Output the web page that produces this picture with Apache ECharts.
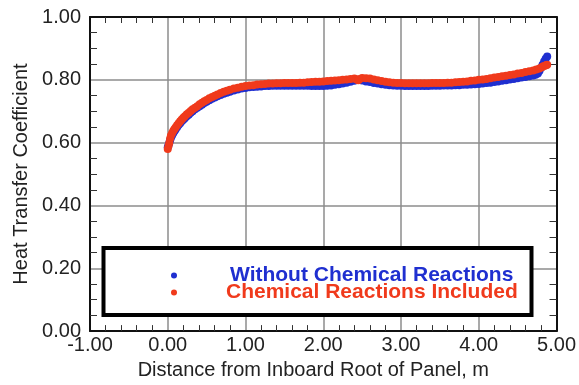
<!DOCTYPE html>
<html>
<head>
<meta charset="utf-8">
<script src="https://cdn.jsdelivr.net/npm/echarts@6/dist/echarts.min.js"></script>
<style>
  html, body { margin: 0; padding: 0; background: #fff; }
  #chart { width: 579px; height: 385px; }
</style>
</head>
<body>
<div id="chart"></div>
<script>
// distance from inboard root (m) and heat transfer coefficient
const seriesNames = ['Without Chemical Reactions', 'Chemical Reactions Included']

const blueX = [0.00, 0.01, 0.02, 0.03, 0.04, 0.055, 0.07, 0.085, 0.10, 0.12, 0.14, 0.16, 0.18, 0.20, 0.22, 0.245, 0.27, 0.295,
  0.32, 0.35, 0.38, 0.41, 0.44, 0.47, 0.50, 0.535, 0.57, 0.605, 0.64, 0.68, 0.72, 0.76, 0.80, 0.85, 0.90, 0.95,
  1.00, 1.05, 1.10, 1.15, 1.20, 1.25, 1.30, 1.35, 1.40, 1.45, 1.50, 1.55, 1.60, 1.65, 1.70, 1.75, 1.80, 1.85, 1.90, 1.95,
  2.00, 2.05, 2.10, 2.15, 2.20, 2.25, 2.30, 2.35, 2.40, 2.45, 2.50, 2.55, 2.60, 2.65, 2.70, 2.75, 2.80, 2.85, 2.90, 2.95,
  3.00, 3.05, 3.10, 3.15, 3.20, 3.25, 3.30, 3.35, 3.40, 3.45, 3.50, 3.55, 3.60, 3.65, 3.70, 3.75, 3.80, 3.85, 3.90, 3.95,
  4.00, 4.05, 4.10, 4.15, 4.20, 4.25, 4.30, 4.35, 4.40, 4.45, 4.50, 4.55, 4.60, 4.65, 4.70, 4.73, 4.76, 4.78, 4.80, 4.82,
  4.84, 4.86, 4.88]
const blueY = [0.585, 0.592, 0.600, 0.608, 0.615, 0.623, 0.630, 0.636, 0.642, 0.649, 0.656, 0.662, 0.668, 0.673, 0.678, 0.684, 0.689, 0.695,
  0.700, 0.706, 0.711, 0.716, 0.721, 0.726, 0.730, 0.735, 0.740, 0.744, 0.748, 0.752, 0.756, 0.759, 0.762, 0.766, 0.769, 0.772,
  0.774, 0.776, 0.777, 0.778, 0.779, 0.780, 0.780, 0.781, 0.781, 0.781, 0.781, 0.781, 0.781, 0.781, 0.781, 0.781, 0.781, 0.780, 0.780, 0.780,
  0.780, 0.781, 0.782, 0.784, 0.786, 0.788, 0.791, 0.794, 0.797, 0.800, 0.798, 0.795, 0.793, 0.790, 0.788, 0.786, 0.784, 0.783, 0.782, 0.781,
  0.781, 0.780, 0.780, 0.780, 0.780, 0.780, 0.780, 0.780, 0.781, 0.781, 0.781, 0.782, 0.782, 0.782, 0.783, 0.783, 0.784, 0.784, 0.785, 0.786,
  0.787, 0.788, 0.790, 0.791, 0.793, 0.795, 0.797, 0.799, 0.801, 0.803, 0.805, 0.807, 0.809, 0.811, 0.814, 0.816, 0.820, 0.828, 0.838, 0.848,
  0.858, 0.867, 0.874]

const redX = [0.00, 0.01, 0.02, 0.03, 0.04, 0.055, 0.07, 0.085, 0.10, 0.12, 0.14, 0.16, 0.18, 0.20, 0.22, 0.245, 0.27, 0.295,
  0.32, 0.35, 0.38, 0.41, 0.44, 0.47, 0.50, 0.535, 0.57, 0.605, 0.64, 0.68, 0.72, 0.76, 0.80, 0.85, 0.90, 0.95,
  1.00, 1.05, 1.10, 1.15, 1.20, 1.25, 1.30, 1.35, 1.40, 1.45, 1.50, 1.55, 1.60, 1.65, 1.70, 1.75, 1.80, 1.85, 1.90, 1.95,
  2.00, 2.05, 2.10, 2.15, 2.20, 2.25, 2.30, 2.35, 2.40, 2.43, 2.45, 2.47, 2.50, 2.55, 2.60, 2.65, 2.70, 2.75, 2.80, 2.85, 2.90, 2.95,
  3.00, 3.05, 3.10, 3.15, 3.20, 3.25, 3.30, 3.35, 3.40, 3.45, 3.50, 3.55, 3.60, 3.65, 3.70, 3.75, 3.80, 3.85, 3.90, 3.95,
  4.00, 4.05, 4.10, 4.15, 4.20, 4.25, 4.30, 4.35, 4.40, 4.45, 4.50, 4.55, 4.60, 4.65, 4.70, 4.74, 4.78, 4.81, 4.83, 4.85,
  4.87, 4.88]
const redY = [0.580, 0.590, 0.600, 0.612, 0.622, 0.630, 0.637, 0.643, 0.648, 0.655, 0.662, 0.668, 0.674, 0.679, 0.684, 0.690, 0.695, 0.701,
  0.706, 0.711, 0.716, 0.722, 0.727, 0.732, 0.736, 0.741, 0.745, 0.749, 0.753, 0.758, 0.762, 0.765, 0.768, 0.772, 0.775, 0.778,
  0.780, 0.782, 0.783, 0.785, 0.786, 0.787, 0.788, 0.788, 0.789, 0.789, 0.790, 0.790, 0.790, 0.790, 0.791, 0.791, 0.792, 0.793, 0.794, 0.794,
  0.795, 0.796, 0.797, 0.798, 0.799, 0.800, 0.801, 0.803, 0.804, 0.801, 0.799, 0.803, 0.806, 0.805, 0.804, 0.801, 0.799, 0.796, 0.794, 0.792, 0.791, 0.790,
  0.790, 0.789, 0.789, 0.789, 0.789, 0.789, 0.789, 0.789, 0.790, 0.790, 0.790, 0.790, 0.791, 0.791, 0.792, 0.793, 0.794, 0.795, 0.797, 0.798,
  0.800, 0.801, 0.803, 0.805, 0.807, 0.809, 0.811, 0.813, 0.815, 0.817, 0.820, 0.822, 0.825, 0.827, 0.830, 0.833, 0.836, 0.840, 0.843, 0.845,
  0.847, 0.848]

const blueColor = '#1f2fd0'
const redColor = '#f03a1c'
const font = '"Liberation Sans", Arial, Helvetica, sans-serif'

const pairs = (xs, ys) => xs.map((x, i) => [x, ys[i]])

const chart = echarts.init(document.getElementById('chart'))

// 刻度样式
const minorTick = { show: true, splitNumber: 5, length: 6, lineStyle: { color: '#333', width: 1 } }
const frameLine = { show: true, onZero: false, lineStyle: { color: '#111', width: 2 } }
const gridLine = { show: true, lineStyle: { color: '#8c8c8c', width: 1.5 } }
const hiddenTick = { show: false, inside: true }

const option = {
  backgroundColor: '#fff',
  animation: false,
  textStyle: { fontFamily: font },
  grid: { left: 90, right: 22, top: 17, bottom: 48 },
  legend: {
    data: [
      { name: seriesNames[0], textStyle: { color: blueColor, padding: [0, 0, 0, 48] } },
      { name: seriesNames[1], textStyle: { color: redColor, padding: [0, 0, 0, 44] } }
    ],
    orient: 'vertical',
    left: 166,
    top: 260,
    z: 20,
    icon: 'circle',
    itemWidth: 6,
    itemHeight: 6,
    itemGap: -4,
    selectedMode: false,
    textStyle: { fontSize: 21, fontWeight: 'bold' }
  },
  graphic: [
    {
      type: 'rect',
      shape: { x: 103.5, y: 248, width: 428, height: 67 },
      style: { fill: '#fff', stroke: '#000', lineWidth: 4 },
      z: 5
    }
  ],
  xAxis: [
    {
      type: 'value',
      min: -1,
      max: 5,
      interval: 1,
      position: 'bottom',
      axisLine: frameLine,
      axisTick: hiddenTick,
      minorTick: minorTick,
      splitLine: gridLine,
      axisLabel: { color: '#222', fontSize: 20, margin: 4, formatter: v => v.toFixed(2) },
      name: 'Distance from Inboard Root of Panel, m',
      nameLocation: 'middle',
      nameGap: 27,
      nameTextStyle: { color: '#222', fontSize: 20, padding: [0, 20, 0, 0] }
    },
    {
      type: 'value',
      min: -1,
      max: 5,
      interval: 1,
      position: 'top',
      axisLine: frameLine,
      axisTick: hiddenTick,
      minorTick: minorTick,
      splitLine: { show: false },
      axisLabel: { show: false }
    }
  ],
  yAxis: [
    {
      type: 'value',
      min: 0,
      max: 1,
      interval: 0.2,
      position: 'left',
      axisLine: frameLine,
      axisTick: hiddenTick,
      minorTick: { ...minorTick, splitNumber: 4, length: 7 },
      splitLine: gridLine,
      axisLabel: { color: '#222', fontSize: 20, margin: 9, formatter: v => v.toFixed(2) },
      name: 'Heat Transfer Coefficient',
      nameLocation: 'middle',
      nameGap: 58,
      nameTextStyle: { color: '#222', fontSize: 20 }
    },
    {
      type: 'value',
      min: 0,
      max: 1,
      interval: 0.2,
      position: 'right',
      axisLine: frameLine,
      axisTick: hiddenTick,
      minorTick: { ...minorTick, splitNumber: 4, length: 7 },
      splitLine: { show: false },
      axisLabel: { show: false }
    }
  ],
  series: [
    {
      name: seriesNames[0],
      type: 'scatter',
      xAxisIndex: 0,
      yAxisIndex: 0,
      symbolSize: 8,
      itemStyle: { color: blueColor, opacity: 1 },
      data: pairs(blueX, blueY),
      z: 3
    },
    {
      name: seriesNames[1],
      type: 'scatter',
      xAxisIndex: 0,
      yAxisIndex: 0,
      symbolSize: 8,
      itemStyle: { color: redColor, opacity: 1 },
      data: pairs(redX, redY),
      z: 4
    }
  ]
}

chart.setOption(option)
</script>
</body>
</html>
